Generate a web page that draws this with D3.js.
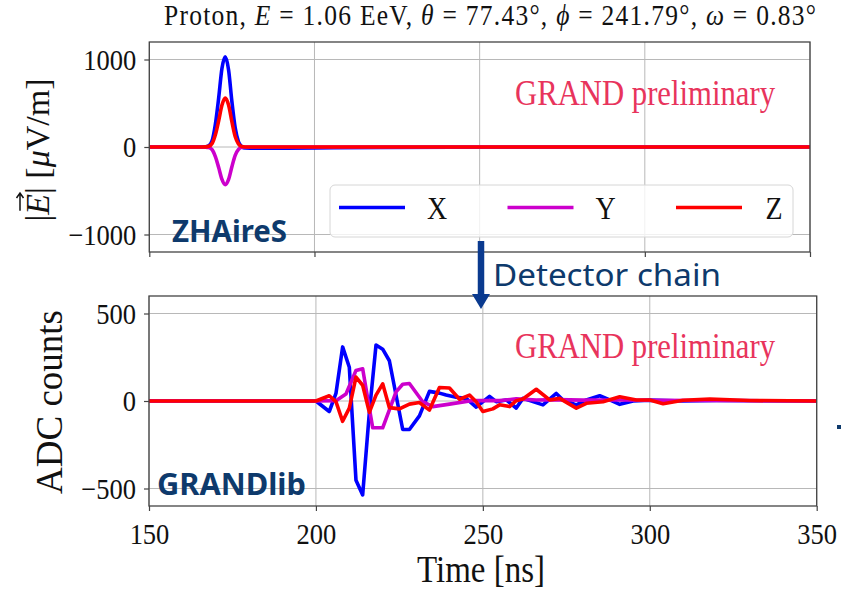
<!DOCTYPE html>
<html>
<head>
<meta charset="utf-8">
<script src="https://cdn.jsdelivr.net/npm/d3@7"></script>
<style>
  body { margin: 0; background: #fff; }
  svg { display: block; }
  .tall { transform-box: fill-box; transform-origin: center; transform: scaleY(1.13); }
</style>
</head>
<body>
<div id="chart"></div>
<script>
// axis ticks
const timeTicks = [150, 200, 250, 300, 350];
const efieldTicks = [-1000, 0, 1000];
const adcTicks = [-500, 0, 500];

// ZHAireS simulated electric field (uV/m)
const simTime = [150, 166, 167, 168, 169, 170, 171, 172, 173, 174, 175, 176, 177, 178, 179, 182, 190, 200, 220, 260, 350];
const simX = [0, 0, 2, 15, 70, 260, 560, 900, 1030, 880, 520, 220, 60, 5, -12, -15, -14, -10, -5, -2, 0];
const simY = [0, 0, -1, -6, -30, -110, -235, -370, -431, -370, -225, -95, -28, -4, 0, 0, 0, 0, 0, 0, 0];
const simZ = [0, 0, 1, 8, 40, 140, 300, 480, 560, 480, 290, 120, 35, 5, 0, 0, 0, 0, 0, 0, 0];

// GRANDlib ADC traces after the detector chain
const adcTimeX = [150, 200, 204, 206, 208, 210, 212, 214, 216, 218, 220, 222, 226, 228, 231, 234, 237, 239, 242, 245,
                  248, 252, 254, 257, 260, 262, 268, 272, 274, 278, 281, 285, 288, 291, 295, 300, 310, 320, 350];
const adcX = [0, 0, -60, 43, 309, 193, -453, -537, -67, 320, 296, 230, -163, -163, -85, 55, 45, 34, 21, 15,
              -35, 26, -4, 6, -40, 15, -22, 43, 6, -22, 6, 30, 6, -19, 0, 5, 0, 3, 0];
const adcTimeY = [150, 200, 206, 209, 212, 214, 217, 220, 224, 226, 228, 232, 235, 240, 247, 255, 260, 266, 272, 280, 290, 300, 350];
const adcY = [0, 0, 2, 40, 174, 184, -153, -153, 52, 96, 100, -4, -32, -18, 3, 2, 12, 6, 8, 5, 6, 4, 0];
const adcTimeZ = [150, 200, 204, 206, 208, 210, 212, 214, 216, 218, 220, 222, 225, 228, 231, 234, 237, 240, 243, 246,
                  248, 250, 253, 255, 258, 260, 262, 266, 270, 273, 278, 281, 286, 291, 296, 300, 304, 310, 318, 330, 350];
const adcZ = [0, 0, 30, -4, -116, -41, 137, 90, -65, 34, 98, -38, -45, -18, -9, -52, 77, 74, 10, 34,
              -4, -60, -45, -22, -32, 2, 11, 67, 6, 15, -41, -13, -4, 24, 6, 6, -16, 4, 11, 3, 0];

const channels = ["X", "Y", "Z"];
const colors = {X: "#0000ff", Y: "#cc00cc", Z: "#ff0000"};

const serif = "'Liberation Serif', 'DejaVu Serif', serif";
const sans = "'Noto Sans', 'Open Sans', sans-serif";
const navy = "#0e3a6c";
const stamp = "#e8345c";

const W = 841, H = 591;
const svg = d3.select("#chart").append("svg")
    .attr("width", W).attr("height", H);

const topBox = {left: 149.3, right: 810, top: 42, bottom: 252};
const botBox = {left: 149, right: 816.7, top: 296, bottom: 506};

const xTop = d3.scaleLinear().domain([150, 350]).range([topBox.left, topBox.right]);
const yTop = d3.scaleLinear().domain([-1200, 1200]).range([topBox.bottom, topBox.top]);
const xBot = d3.scaleLinear().domain([150, 350]).range([botBox.left, botBox.right]);
const yBot = d3.scaleLinear().domain([-600, 600]).range([botBox.bottom, botBox.top]);

function styleAxis(g) {
    g.select(".domain").remove();
    g.selectAll(".tick line").attr("stroke", "#444").attr("stroke-width", 1.2);
    g.selectAll(".tick text")
        .attr("class", "tall")
        .attr("font-family", serif)
        .attr("font-size", 26.5)
        .attr("fill", "#111");
}

function drawPanel(box, x, y, yTicks, showXLabels, id) {
    const grid = svg.append("g");
    grid.selectAll(".vg").data(timeTicks).join("line")
        .attr("x1", d => x(d)).attr("x2", d => x(d))
        .attr("y1", box.top).attr("y2", box.bottom)
        .attr("stroke", "#b8b8b8").attr("stroke-width", 1);
    grid.selectAll(".hg").data(yTicks).join("line")
        .attr("x1", box.left).attr("x2", box.right)
        .attr("y1", d => y(d)).attr("y2", d => y(d))
        .attr("stroke", "#b8b8b8").attr("stroke-width", 1);

    svg.append("clipPath").attr("id", id)
        .append("rect")
        .attr("x", box.left).attr("y", box.top)
        .attr("width", box.right - box.left).attr("height", box.bottom - box.top);

    const yAxis = d3.axisLeft(y).tickValues(yTicks).tickSize(5).tickPadding(8)
        .tickFormat(d3.format("d"));
    svg.append("g").attr("transform", `translate(${box.left},0)`)
        .call(yAxis).call(styleAxis);

    const xAxis = d3.axisBottom(x).tickValues(timeTicks).tickSize(5).tickPadding(13);
    if (!showXLabels) xAxis.tickFormat("");
    svg.append("g").attr("transform", `translate(0,${box.bottom})`)
        .call(xAxis).call(styleAxis);
}

drawPanel(topBox, xTop, yTop, efieldTicks, false, "clipTop");
drawPanel(botBox, xBot, yBot, adcTicks, true, "clipBot");

// traces
const simLine = d3.line().x(d => xTop(d[0])).y(d => yTop(d[1])).curve(d3.curveMonotoneX);
const adcLine = d3.line().x(d => xBot(d[0])).y(d => yBot(d[1]));

const simSeries = {X: d3.zip(simTime, simX), Y: d3.zip(simTime, simY), Z: d3.zip(simTime, simZ)};
const adcSeries = {X: d3.zip(adcTimeX, adcX), Y: d3.zip(adcTimeY, adcY), Z: d3.zip(adcTimeZ, adcZ)};

const topLines = svg.append("g").attr("clip-path", "url(#clipTop)");
const botLines = svg.append("g").attr("clip-path", "url(#clipBot)");
channels.forEach(c => {
    topLines.append("path").datum(simSeries[c])
        .attr("d", simLine)
        .attr("fill", "none").attr("stroke", colors[c])
        .attr("stroke-width", 3.6).attr("stroke-linejoin", "round");
    botLines.append("path").datum(adcSeries[c])
        .attr("d", adcLine)
        .attr("fill", "none").attr("stroke", colors[c])
        .attr("stroke-width", 3.6).attr("stroke-linejoin", "round");
});

// legend
const legend = svg.append("g");
legend.append("rect")
    .attr("x", 330).attr("y", 185).attr("width", 463).attr("height", 52)
    .attr("rx", 5).attr("fill", "#fff").attr("fill-opacity", 0.8)
    .attr("stroke", "#d6d6d6").attr("stroke-width", 1);
channels.forEach((c, i) => {
    const x0 = 339 + i * 168.5;
    legend.append("line")
        .attr("x1", x0).attr("x2", x0 + 66)
        .attr("y1", 207.5).attr("y2", 207.5)
        .attr("stroke", colors[c]).attr("stroke-width", 3.6);
    legend.append("text")
        .attr("class", "tall")
        .attr("x", x0 + 98).attr("y", 218)
        .attr("text-anchor", "middle")
        .attr("font-family", serif).attr("font-size", 28)
        .attr("fill", "#111")
        .text(c);
});

// frames on top of the traces
[topBox, botBox].forEach(b => {
    svg.append("rect")
        .attr("x", b.left).attr("y", b.top)
        .attr("width", b.right - b.left).attr("height", b.bottom - b.top)
        .attr("fill", "none").attr("stroke", "#444").attr("stroke-width", 1.3);
});

// title
const title = svg.append("text")
    .attr("class", "tall")
    .attr("x", 490).attr("y", 24)
    .attr("text-anchor", "middle")
    .attr("font-family", serif).attr("font-size", 25.5)
    .attr("fill", "#111")
    .attr("textLength", 652).attr("lengthAdjust", "spacing");
[["Proton, ", false], ["E", true], [" = 1.06 EeV,  ", false], ["θ", true], [" = 77.43°,  ", false],
 ["ϕ", true], [" = 241.79°,  ", false], ["ω", true], [" = 0.83°", false]].forEach(([t, it]) => {
    title.append("tspan").attr("font-style", it ? "italic" : "normal").text(t);
});

// y labels
const yl1 = svg.append("g").attr("transform", "translate(49,150) rotate(-90)");
const yl1Text = yl1.append("text")
    .attr("text-anchor", "middle")
    .attr("font-family", serif).attr("font-size", 34)
    .attr("fill", "#111");
yl1Text.append("tspan").text("|");
yl1Text.append("tspan").attr("font-style", "italic").text("E");
yl1Text.append("tspan").text("|  [");
yl1Text.append("tspan").attr("font-style", "italic").text("μ");
yl1Text.append("tspan").text("V/m]");
// vector arrow above the E
const eBox = yl1Text.node().getExtentOfChar(1);
const ay = eBox.y + 1, ax0 = eBox.x + 4, ax1 = eBox.x + eBox.width + 1;
yl1.append("path")
    .attr("d", `M${ax0},${ay}H${ax1}M${ax1 - 5},${ay - 3.5}L${ax1},${ay}L${ax1 - 5},${ay + 3.5}`)
    .attr("fill", "none").attr("stroke", "#111").attr("stroke-width", 1.5);

svg.append("text")
    .attr("transform", "translate(62,402) rotate(-90)")
    .attr("text-anchor", "middle")
    .attr("font-family", serif).attr("font-size", 37)
    .attr("fill", "#111")
    .text("ADC counts");

svg.append("text")
    .attr("class", "tall")
    .attr("x", 481).attr("y", 581)
    .attr("text-anchor", "middle")
    .attr("font-family", serif).attr("font-size", 33)
    .attr("fill", "#111")
    .text("Time [ns]");

// watermarks
[[104], [357]].forEach(([y]) => {
    svg.append("text")
        .attr("class", "tall")
        .attr("x", 515).attr("y", y)
        .attr("font-family", serif).attr("font-size", 31)
        .attr("fill", stamp)
        .attr("textLength", 260).attr("lengthAdjust", "spacingAndGlyphs")
        .text("GRAND preliminary");
});

// code names
svg.append("text")
    .attr("x", 172).attr("y", 242)
    .attr("font-family", sans).attr("font-weight", 700).attr("font-size", 30)
    .attr("fill", navy)
    .attr("textLength", 115).attr("lengthAdjust", "spacingAndGlyphs")
    .text("ZHAireS");
svg.append("text")
    .attr("x", 157).attr("y", 495)
    .attr("font-family", sans).attr("font-weight", 700).attr("font-size", 31)
    .attr("fill", navy)
    .attr("textLength", 149).attr("lengthAdjust", "spacingAndGlyphs")
    .text("GRANDlib");

// detector chain arrow
const arrowColor = "#0a3a8f";
svg.append("line")
    .attr("x1", 481).attr("x2", 481)
    .attr("y1", 241).attr("y2", 296)
    .attr("stroke", arrowColor).attr("stroke-width", 6.5);
svg.append("path")
    .attr("d", "M472,294L490,294L481,309Z")
    .attr("fill", arrowColor);
svg.append("text")
    .attr("x", 493).attr("y", 286)
    .attr("font-family", sans).attr("font-size", 31)
    .attr("fill", navy)
    .attr("textLength", 228).attr("lengthAdjust", "spacingAndGlyphs")
    .text("Detector chain");

// small mark at the right edge
svg.append("rect")
    .attr("x", 837).attr("y", 425).attr("width", 4).attr("height", 4)
    .attr("fill", navy);
</script>
</body>
</html>
